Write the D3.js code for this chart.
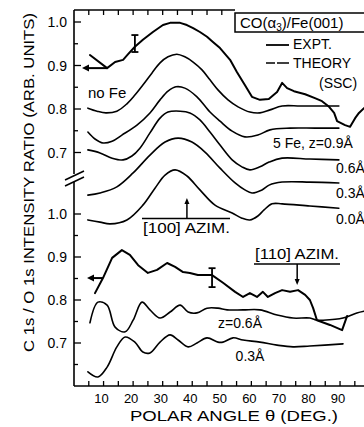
<!DOCTYPE html>
<html>
<head>
<meta charset="utf-8">
<script src="https://cdn.jsdelivr.net/npm/d3@7"></script>
<style>
  body { margin: 0; background: #fff; }
  svg { display: block; }
  text { font-family: "Liberation Sans", Arial, Helvetica, sans-serif; fill: #000; }
</style>
</head>
<body>
<svg id="chart" width="364" height="427"></svg>
<script>
// ---- [100] azimuth (upper panel) ----
const upperExptTheta = [5.4, 11.2, 13.9, 16.6, 18.3, 20.6, 23.3, 26.7, 30.1, 32.5, 35.9, 38.2, 40.3, 42.6, 45.0, 47.0, 49.4, 52.8, 55.1, 57.8, 60.2, 62.9, 65.9, 68.7, 70.4, 72.1, 74.4, 78.2, 81.5, 83.9, 86.3, 88.0, 89.0, 91.7, 93.4, 95.1, 96.4, 98.1];
const upperExptRatio = [0.924, 0.894, 0.908, 0.913, 0.926, 0.943, 0.959, 0.977, 0.993, 0.998, 0.998, 0.993, 0.986, 0.977, 0.966, 0.954, 0.940, 0.913, 0.885, 0.855, 0.828, 0.821, 0.823, 0.839, 0.860, 0.848, 0.841, 0.834, 0.825, 0.818, 0.805, 0.791, 0.772, 0.763, 0.759, 0.779, 0.791, 0.802];

const noFeTheta = [4.7, 7.8, 10.8, 14.5, 17.9, 20.6, 23.3, 26.4, 29.1, 31.8, 34.8, 37.5, 40.3, 43.3, 46.0, 48.7, 52.1, 55.5, 59.5, 62.9, 66.3, 70.4, 76.5, 83.2, 89.6];
const noFeRatio = [0.802, 0.795, 0.791, 0.795, 0.812, 0.832, 0.855, 0.883, 0.906, 0.920, 0.926, 0.920, 0.908, 0.890, 0.867, 0.844, 0.821, 0.805, 0.793, 0.791, 0.798, 0.807, 0.807, 0.807, 0.807];

const z09Theta = [4.7, 7.1, 9.8, 12.9, 16.2, 21.3, 25.7, 29.1, 31.8, 34.5, 37.5, 41.6, 46.0, 49.4, 53.5, 57.8, 62.2, 66.3, 73.1, 81.5, 89.6];
const z09Ratio = [0.747, 0.731, 0.722, 0.726, 0.740, 0.763, 0.791, 0.821, 0.841, 0.851, 0.848, 0.828, 0.793, 0.772, 0.749, 0.736, 0.740, 0.752, 0.756, 0.756, 0.756];

const z06Theta = [4.7, 8.8, 12.9, 16.6, 19.6, 22.3, 25.7, 29.1, 31.8, 35.9, 39.2, 42.6, 46.0, 49.4, 53.5, 56.8, 59.5, 62.9, 66.0, 70.4, 79.8, 89.6];
const z06Ratio = [0.706, 0.699, 0.687, 0.683, 0.692, 0.710, 0.745, 0.779, 0.793, 0.795, 0.791, 0.775, 0.747, 0.717, 0.683, 0.667, 0.660, 0.667, 0.678, 0.687, 0.685, 0.683];

const z03Theta = [4.7, 8.8, 14.5, 20.0, 25.7, 30.8, 35.2, 39.9, 44.3, 49.4, 54.5, 57.8, 60.2, 63.6, 66.0, 70.4, 79.8, 89.6];
const z03Ratio = [0.602, 0.607, 0.621, 0.653, 0.694, 0.724, 0.733, 0.724, 0.701, 0.664, 0.630, 0.614, 0.607, 0.614, 0.625, 0.632, 0.632, 0.630];

const z00Theta = [4.7, 8.8, 12.2, 17.9, 23.3, 27.4, 30.8, 34.2, 38.2, 42.6, 47.7, 53.5, 56.8, 59.5, 62.2, 64.3, 67.0, 70.4, 79.8, 89.6];
const z00Ratio = [0.545, 0.540, 0.536, 0.545, 0.579, 0.618, 0.648, 0.660, 0.646, 0.614, 0.579, 0.561, 0.549, 0.545, 0.554, 0.568, 0.582, 0.582, 0.577, 0.572];

// ---- [110] azimuth (lower panel) ----
const lowerExptTheta = [7.1, 9.8, 12.9, 16.2, 18.9, 21.7, 25.0, 28.1, 31.5, 34.2, 36.9, 39.2, 41.9, 46.7, 50.4, 54.5, 57.2, 59.5, 61.9, 63.9, 65.6, 68.0, 70.4, 73.1, 75.8, 78.2, 79.8, 80.9, 82.2, 86.6, 90.7, 92.4];
const lowerExptRatio = [0.816, 0.851, 0.898, 0.916, 0.905, 0.881, 0.863, 0.870, 0.886, 0.877, 0.865, 0.863, 0.858, 0.858, 0.840, 0.819, 0.807, 0.816, 0.807, 0.819, 0.807, 0.816, 0.823, 0.819, 0.823, 0.812, 0.800, 0.781, 0.753, 0.742, 0.730, 0.763];

const lowZ06Theta = [5.4, 8.1, 11.2, 13.9, 17.3, 20.0, 23.0, 25.7, 29.1, 32.5, 35.9, 38.6, 41.6, 45.0, 48.7, 51.8, 57.2, 62.9, 68.7, 74.1, 79.8, 82.2, 84.2, 91.0, 95.7, 98.1];
const lowZ06Ratio = [0.747, 0.795, 0.788, 0.737, 0.726, 0.753, 0.795, 0.777, 0.758, 0.772, 0.788, 0.772, 0.770, 0.781, 0.781, 0.777, 0.777, 0.777, 0.765, 0.758, 0.758, 0.753, 0.753, 0.758, 0.770, 0.774];

const lowZ03Theta = [4.7, 8.1, 11.2, 14.5, 17.3, 20.6, 23.3, 25.7, 29.1, 32.5, 35.2, 38.6, 41.6, 45.0, 48.7, 50.4, 53.8, 57.2, 62.9, 68.7, 74.1, 79.8, 91.0];
const lowZ03Ratio = [0.633, 0.621, 0.644, 0.691, 0.714, 0.702, 0.679, 0.677, 0.702, 0.719, 0.707, 0.691, 0.700, 0.712, 0.702, 0.702, 0.712, 0.707, 0.702, 0.695, 0.691, 0.693, 0.698];

// ---- axis tick values ----
const xTickLabels = [10, 20, 30, 40, 50, 60, 70, 80, 90];
const upperTickLabels = [1.0, 0.9, 0.8, 0.7];
const lowerTickLabels = [1.0, 0.9, 0.8, 0.7];

const svg = d3.select("#chart");

const x = d3.scaleLinear().domain([0, 100]).range([74, 369.6]);
const yU = d3.scaleLinear().domain([1.0, 0.7]).range([22, 152.5]);
const yL = d3.scaleLinear().domain([1.0, 0.6]).range([214, 386]);

const pairs = (t, v) => t.map((d, i) => [d, v[i]]);

const smoothU = d3.line().x(d => x(d[0])).y(d => yU(d[1])).curve(d3.curveCatmullRom.alpha(0.5));
const smoothL = d3.line().x(d => x(d[0])).y(d => yL(d[1])).curve(d3.curveCatmullRom.alpha(0.5));
const jaggedU = d3.line().x(d => x(d[0])).y(d => yU(d[1]));
const jaggedL = d3.line().x(d => x(d[0])).y(d => yL(d[1]));

const ink = "#000";

// ---- frame and axes ----
const axisG = svg.append("g").attr("stroke", ink).attr("stroke-width", 1.6).attr("fill", "none");
const yTop = 10, yBot = 386;
// bottom axis
axisG.append("line").attr("x1", x(0)).attr("x2", 364).attr("y1", yBot).attr("y2", yBot);
// top axis, stopping at the legend box
const legendLeft = 235;
axisG.append("line").attr("x1", x(0)).attr("x2", legendLeft).attr("y1", yTop).attr("y2", yTop);
// left axis with a break between the panels
axisG.append("line").attr("x1", x(0)).attr("x2", x(0)).attr("y1", yTop).attr("y2", 174);
axisG.append("line").attr("x1", x(0)).attr("x2", x(0)).attr("y1", 182).attr("y2", yBot);
axisG.append("line").attr("x1", 65).attr("y1", 180).attr("x2", 84).attr("y2", 171);
axisG.append("line").attr("x1", 65).attr("y1", 186).attr("x2", 84).attr("y2", 177);

// x ticks every 5 degrees, pointing inwards
const tickG = svg.append("g").attr("stroke", ink).attr("stroke-width", 1.3);
d3.range(5, 100, 5).forEach(t => {
  tickG.append("line").attr("x1", x(t)).attr("x2", x(t)).attr("y1", yBot).attr("y2", yBot - 5);
  if (x(t) < legendLeft - 2)
    tickG.append("line").attr("x1", x(t)).attr("x2", x(t)).attr("y1", yTop).attr("y2", yTop + 5);
});

// y ticks
function yTicks(scale, lo, hi) {
  for (let v = hi; v >= lo - 1e-9; v -= 0.05) {
    const major = Math.abs(Math.round(v * 10) - v * 10) < 1e-6;
    tickG.append("line").attr("x1", x(0)).attr("x2", x(0) + (major ? 7 : 4))
      .attr("y1", scale(v)).attr("y2", scale(v));
  }
}
yTicks(yU, 0.7, 1.0);
yTicks(yL, 0.65, 1.0);

// tick labels
const labG = svg.append("g").attr("font-size", 14);
xTickLabels.forEach(t => {
  labG.append("text").attr("x", x(t) - 2).attr("y", 403).attr("font-size", 13)
    .attr("text-anchor", "middle").text(t);
});
upperTickLabels.forEach(v => {
  labG.append("text").attr("x", 67).attr("y", yU(v)).attr("dy", "0.36em")
    .attr("text-anchor", "end").text(v.toFixed(1));
});
lowerTickLabels.forEach(v => {
  labG.append("text").attr("x", 67).attr("y", yL(v)).attr("dy", "0.36em")
    .attr("text-anchor", "end").text(v.toFixed(1));
});

// axis titles
svg.append("text").attr("x", 234).attr("y", 421).attr("text-anchor", "middle")
  .attr("font-size", 14).attr("textLength", 208).attr("lengthAdjust", "spacingAndGlyphs")
  .text("POLAR ANGLE \u03b8 (DEG.)");
svg.append("text").attr("transform", "translate(34,182.5) rotate(-90)")
  .attr("text-anchor", "middle").attr("font-size", 14)
  .attr("textLength", 339).attr("lengthAdjust", "spacingAndGlyphs")
  .text("C 1s / O 1s INTENSITY RATIO (ARB. UNITS)");

// ---- curves ----
const curveG = svg.append("g").attr("fill", "none").attr("stroke", ink)
  .attr("stroke-linejoin", "round").attr("stroke-linecap", "round");

[[noFeTheta, noFeRatio], [z09Theta, z09Ratio], [z06Theta, z06Ratio], [z03Theta, z03Ratio], [z00Theta, z00Ratio]]
  .forEach(([t, v]) => curveG.append("path").attr("d", smoothU(pairs(t, v))).attr("stroke-width", 1.6));
curveG.append("path").attr("d", jaggedU(pairs(upperExptTheta, upperExptRatio))).attr("stroke-width", 2);

curveG.append("path").attr("d", smoothL(pairs(lowZ06Theta, lowZ06Ratio))).attr("stroke-width", 1.6);
curveG.append("path").attr("d", smoothL(pairs(lowZ03Theta, lowZ03Ratio))).attr("stroke-width", 1.6);
curveG.append("path").attr("d", jaggedL(pairs(lowerExptTheta, lowerExptRatio))).attr("stroke-width", 2);

// error bars on the measured curves
function errorBar(t, top, bottom, scale) {
  const g = svg.append("g").attr("stroke", ink).attr("stroke-width", 1.8);
  g.append("line").attr("x1", x(t)).attr("x2", x(t)).attr("y1", scale(top)).attr("y2", scale(bottom));
  g.append("line").attr("x1", x(t) - 3.5).attr("x2", x(t) + 3.5).attr("y1", scale(top)).attr("y2", scale(top));
  g.append("line").attr("x1", x(t) - 3.5).attr("x2", x(t) + 3.5).attr("y1", scale(bottom)).attr("y2", scale(bottom));
}
errorBar(20.6, 0.970, 0.931, yU);
errorBar(46.7, 0.874, 0.830, yL);

// arrows pointing the measured curves at the left axis
function leftArrow(tFrom, tTo, v, scale) {
  const yy = scale(v);
  svg.append("line").attr("x1", x(tFrom)).attr("x2", x(tTo) + 5).attr("y1", yy).attr("y2", yy)
    .attr("stroke", ink).attr("stroke-width", 2);
  svg.append("path").attr("fill", ink)
    .attr("d", `M${x(tTo)},${yy} l7,-3.5 l0,7 z`);
}
leftArrow(11.2, 2.7, 0.894, yU);
leftArrow(9.8, 4.4, 0.851, yL);

// ---- text labels on the curves ----
const noteG = svg.append("g").attr("font-size", 14);
noteG.append("text").attr("x", 88).attr("y", 98).attr("font-size", 15).text("no Fe");
noteG.append("text").attr("x", 273).attr("y", 148).text("5 Fe, z=0.9\u00c5");
noteG.append("text").attr("x", 336).attr("y", 173).text("0.6\u00c5");
noteG.append("text").attr("x", 336).attr("y", 198).text("0.3\u00c5");
noteG.append("text").attr("x", 336).attr("y", 224).text("0.0\u00c5");
noteG.append("text").attr("x", 240).attr("y", 328).attr("text-anchor", "middle").text("z=0.6\u00c5");
noteG.append("text").attr("x", 250).attr("y", 361).attr("text-anchor", "middle").text("0.3\u00c5");

// azimuth labels with their pointers
const azG = svg.append("g").attr("stroke", ink).attr("stroke-width", 1.5);
noteG.append("text").attr("x", 143).attr("y", 233).attr("textLength", 87)
  .attr("lengthAdjust", "spacingAndGlyphs").text("[100] AZIM.");
azG.append("line").attr("x1", 142).attr("x2", 230).attr("y1", 218.5).attr("y2", 218.5);
azG.append("line").attr("x1", x(38.2)).attr("x2", x(38.2)).attr("y1", 218.5).attr("y2", 203);
svg.append("path").attr("fill", ink).attr("d", `M${x(38.2)},198 l-2.5,6 l5,0 z`);

noteG.append("text").attr("x", 255).attr("y", 259).attr("textLength", 84)
  .attr("lengthAdjust", "spacingAndGlyphs").text("[110] AZIM.");
azG.append("line").attr("x1", 254).attr("x2", 340).attr("y1", 264).attr("y2", 264);
azG.append("line").attr("x1", x(75.5)).attr("x2", x(75.5)).attr("y1", 264).attr("y2", 280);
svg.append("path").attr("fill", ink).attr("d", `M${x(75.5)},285 l-2.5,-6 l5,0 z`);

// ---- legend ----
svg.append("rect").attr("x", legendLeft).attr("y", 13).attr("width", 140).attr("height", 19)
  .attr("fill", "#fff").attr("stroke", ink).attr("stroke-width", 1.5);
const title = svg.append("text").attr("x", 240).attr("y", 28).attr("font-size", 15);
title.append("tspan").text("CO(\u03b1");
title.append("tspan").attr("font-size", 10).attr("dy", 3).text("3");
title.append("tspan").attr("dy", -3).text(")/Fe(001)");
svg.append("line").attr("x1", 266).attr("x2", 289).attr("y1", 45).attr("y2", 45)
  .attr("stroke", ink).attr("stroke-width", 1.8);
svg.append("line").attr("x1", 266).attr("x2", 289).attr("y1", 63).attr("y2", 63)
  .attr("stroke", ink).attr("stroke-width", 1.6).attr("stroke-dasharray", "9,2,12");
const legT = svg.append("g").attr("font-size", 14);
legT.append("text").attr("x", 293).attr("y", 49).text("EXPT.");
legT.append("text").attr("x", 293).attr("y", 68).text("THEORY");
legT.append("text").attr("x", 319).attr("y", 88).text("(SSC)");
</script>
</body>
</html>
